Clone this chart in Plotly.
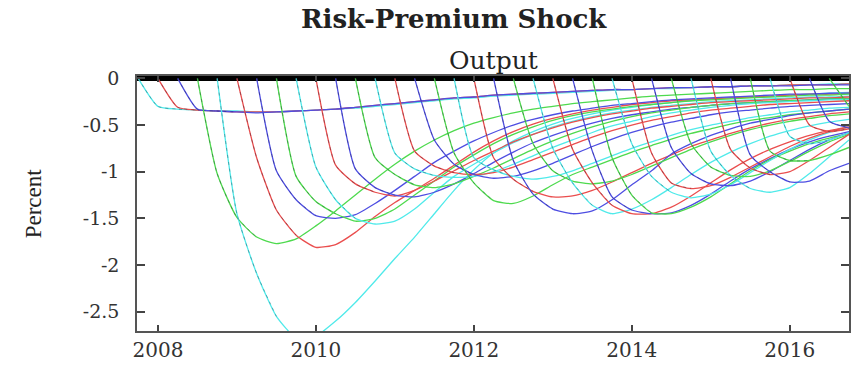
import plotly.graph_objects as go

# Quarterly dates (decimal years), 2007Q4 .. 2016Q4
quarters = [2007.75, 2008.0, 2008.25, 2008.5, 2008.75, 2009.0, 2009.25, 2009.5, 2009.75,
            2010.0, 2010.25, 2010.5, 2010.75, 2011.0, 2011.25, 2011.5, 2011.75,
            2012.0, 2012.25, 2012.5, 2012.75, 2013.0, 2013.25, 2013.5, 2013.75,
            2014.0, 2014.25, 2014.5, 2014.75, 2015.0, 2015.25, 2015.5, 2015.75,
            2016.0, 2016.25, 2016.5, 2016.75]

# Output response (percent) to a risk-premium shock, one path per shock date
r00 = [0, -0.30, -0.33, -0.34, -0.35, -0.35, -0.36, -0.36, -0.35, -0.34, -0.33, -0.32, -0.30, -0.28, -0.26, -0.24, -0.22, -0.21, -0.19, -0.18, -0.17, -0.16, -0.15, -0.14, -0.13, -0.12, -0.11, -0.11, -0.10, -0.09, -0.09, -0.08, -0.08, -0.07, -0.07, -0.06, -0.06]
r01 = [0, -0.31, -0.34, -0.35, -0.36, -0.36, -0.36, -0.35, -0.34, -0.33, -0.31, -0.29, -0.27, -0.25, -0.23, -0.21, -0.20, -0.18, -0.17, -0.16, -0.15, -0.14, -0.13, -0.12, -0.12, -0.11, -0.10, -0.10, -0.09, -0.09, -0.08, -0.08, -0.07, -0.07, -0.07, -0.06]
r02 = [0, -0.33, -0.35, -0.36, -0.37, -0.36, -0.35, -0.34, -0.33, -0.31, -0.29, -0.27, -0.25, -0.23, -0.21, -0.20, -0.18, -0.17, -0.16, -0.15, -0.14, -0.13, -0.12, -0.12, -0.11, -0.10, -0.10, -0.09, -0.09, -0.08, -0.08, -0.08, -0.07, -0.07, -0.07]
r03 = [0, -1.02, -1.49, -1.70, -1.77, -1.72, -1.58, -1.42, -1.25, -1.08, -0.92, -0.78, -0.66, -0.56, -0.48, -0.42, -0.37, -0.33, -0.30, -0.27, -0.25, -0.23, -0.21, -0.19, -0.18, -0.17, -0.16, -0.15, -0.14, -0.13, -0.12, -0.12, -0.11, -0.11]
r04 = [0, -1.45, -2.09, -2.55, -2.78, -2.76, -2.60, -2.40, -2.17, -1.93, -1.70, -1.45, -1.20, -0.98, -0.80, -0.67, -0.57, -0.49, -0.43, -0.38, -0.34, -0.31, -0.28, -0.26, -0.24, -0.22, -0.21, -0.20, -0.19, -0.18, -0.17, -0.16, -0.15]
r05 = [0, -0.85, -1.41, -1.68, -1.81, -1.78, -1.65, -1.48, -1.33, -1.20, -1.07, -0.93, -0.79, -0.67, -0.57, -0.49, -0.43, -0.38, -0.34, -0.31, -0.28, -0.26, -0.24, -0.23, -0.22, -0.21, -0.20, -0.19, -0.18, -0.17, -0.17, -0.16]
r06 = [0, -0.99, -1.30, -1.47, -1.50, -1.46, -1.34, -1.20, -1.05, -0.90, -0.78, -0.67, -0.58, -0.50, -0.44, -0.39, -0.35, -0.32, -0.29, -0.27, -0.25, -0.23, -0.22, -0.21, -0.20, -0.19, -0.18, -0.17, -0.17, -0.16, -0.16]
r07 = [0, -1.05, -1.32, -1.45, -1.53, -1.50, -1.40, -1.25, -1.10, -0.95, -0.82, -0.70, -0.60, -0.52, -0.45, -0.40, -0.36, -0.33, -0.30, -0.28, -0.26, -0.24, -0.23, -0.22, -0.21, -0.20, -0.19, -0.18, -0.18, -0.17]
r08 = [0, -0.95, -1.30, -1.50, -1.56, -1.53, -1.40, -1.22, -1.05, -0.92, -0.80, -0.69, -0.60, -0.52, -0.46, -0.41, -0.37, -0.34, -0.31, -0.29, -0.27, -0.25, -0.24, -0.23, -0.22, -0.21, -0.20, -0.20, -0.19]
r09 = [0, -0.93, -1.13, -1.22, -1.26, -1.20, -1.10, -0.99, -0.88, -0.78, -0.68, -0.60, -0.53, -0.47, -0.42, -0.38, -0.35, -0.32, -0.30, -0.28, -0.26, -0.25, -0.24, -0.23, -0.22, -0.21, -0.21, -0.20]
r10 = [0, -0.97, -1.17, -1.25, -1.27, -1.22, -1.13, -1.02, -0.90, -0.79, -0.69, -0.61, -0.54, -0.48, -0.43, -0.39, -0.36, -0.33, -0.31, -0.29, -0.27, -0.26, -0.25, -0.24, -0.23, -0.22, -0.22]
r11 = [0, -0.85, -1.03, -1.14, -1.17, -1.13, -1.05, -0.96, -0.86, -0.76, -0.67, -0.59, -0.52, -0.46, -0.41, -0.37, -0.34, -0.31, -0.29, -0.27, -0.26, -0.25, -0.24, -0.23, -0.22, -0.22]
r12 = [0, -0.80, -0.97, -1.04, -1.06, -1.05, -1.00, -0.92, -0.83, -0.74, -0.66, -0.58, -0.51, -0.46, -0.41, -0.37, -0.34, -0.31, -0.29, -0.27, -0.26, -0.25, -0.24, -0.23, -0.23]
r13 = [0, -0.78, -0.94, -1.01, -1.03, -1.01, -0.95, -0.87, -0.79, -0.71, -0.63, -0.56, -0.50, -0.45, -0.41, -0.37, -0.34, -0.32, -0.30, -0.28, -0.27, -0.26, -0.25, -0.24]
r14 = [0, -0.66, -0.92, -1.03, -1.07, -1.05, -0.99, -0.91, -0.82, -0.73, -0.65, -0.58, -0.52, -0.47, -0.43, -0.39, -0.36, -0.34, -0.32, -0.30, -0.29, -0.28, -0.27]
r15 = [0, -0.80, -1.12, -1.31, -1.34, -1.26, -1.14, -1.03, -0.95, -0.87, -0.79, -0.72, -0.65, -0.59, -0.54, -0.49, -0.45, -0.42, -0.39, -0.37, -0.35, -0.33]
r16 = [0, -0.85, -0.98, -1.05, -1.08, -1.05, -0.99, -0.91, -0.83, -0.75, -0.68, -0.61, -0.55, -0.50, -0.46, -0.42, -0.39, -0.36, -0.34, -0.32, -0.31]
r17 = [0, -0.85, -1.08, -1.21, -1.27, -1.26, -1.20, -1.11, -1.01, -0.91, -0.82, -0.73, -0.66, -0.59, -0.53, -0.48, -0.44, -0.41, -0.38, -0.36]
r18 = [0, -0.88, -1.24, -1.40, -1.45, -1.42, -1.30, -1.14, -0.99, -0.81, -0.70, -0.61, -0.54, -0.48, -0.44, -0.40, -0.37, -0.35, -0.33]
r19 = [0, -0.70, -0.99, -1.10, -1.13, -1.10, -1.03, -0.94, -0.85, -0.76, -0.68, -0.61, -0.55, -0.50, -0.46, -0.43, -0.40, -0.38]
r20 = [0, -0.75, -1.12, -1.36, -1.45, -1.40, -1.30, -1.17, -1.03, -0.90, -0.79, -0.70, -0.62, -0.56, -0.51, -0.47, -0.44]
r21 = [0, -0.76, -1.12, -1.36, -1.45, -1.45, -1.38, -1.26, -1.12, -0.98, -0.86, -0.76, -0.68, -0.61, -0.56, -0.52]
r22 = [0, -0.78, -1.27, -1.41, -1.45, -1.44, -1.36, -1.24, -1.10, -0.97, -0.86, -0.76, -0.68, -0.62, -0.57]
r23 = [0, -0.85, -1.25, -1.44, -1.45, -1.38, -1.27, -1.13, -0.99, -0.87, -0.78, -0.70, -0.64, -0.59]
r24 = [0, -0.70, -1.05, -1.22, -1.28, -1.24, -1.14, -1.01, -0.88, -0.76, -0.66, -0.58, -0.52]
r25 = [0, -0.80, -1.12, -1.18, -1.15, -1.06, -0.95, -0.84, -0.73, -0.64, -0.57, -0.52]
r26 = [0, -0.74, -1.02, -1.13, -1.15, -1.10, -1.00, -0.88, -0.76, -0.66, -0.58]
r27 = [0, -0.70, -0.95, -1.04, -1.05, -0.99, -0.89, -0.78, -0.68, -0.60]
r28 = [0, -0.78, -1.04, -1.18, -1.22, -1.17, -1.02, -0.84, -0.66]
r29 = [0, -0.76, -0.96, -1.03, -1.00, -0.88, -0.74, -0.60]
r30 = [0, -0.82, -1.00, -1.11, -1.10, -0.99, -0.91]
r31 = [0, -0.78, -0.88, -0.88, -0.82, -0.74]
r32 = [0, -0.62, -0.70, -0.66, -0.58]
r33 = [0, -0.50, -0.57, -0.54]
r34 = [0, -0.46, -0.53]
r35 = [0, -0.30]

responses = [r00, r01, r02, r03, r04, r05, r06, r07, r08, r09, r10, r11,
             r12, r13, r14, r15, r16, r17, r18, r19, r20, r21, r22, r23,
             r24, r25, r26, r27, r28, r29, r30, r31, r32, r33, r34, r35]

palette = ["rgb(80,234,234)", "rgb(234,78,78)", "rgb(78,78,226)", "rgb(78,218,78)"]

y_ticks = [0, -0.5, -1, -1.5, -2, -2.5]
y_ticktext = ["0", "-0.5", "-1", "-1.5", "-2", "-2.5"]
x_ticks = [2008, 2010, 2012, 2014, 2016]
x_ticktext = ["2008", "2010", "2012", "2014", "2016"]

fig = go.Figure()
for k, vals in enumerate(responses):
    xs = quarters[k:k + len(vals)]
    col = palette[k % 4]
    fig.add_trace(go.Scatter(x=xs, y=vals, mode="lines",
                             line=dict(color=col, width=1.3, shape="spline", smoothing=0.55),
                             showlegend=False, hoverinfo="skip"))
    # darker dashes along the initial fall
    fig.add_trace(go.Scatter(x=xs[:4], y=vals[:4], mode="lines",
                             line=dict(color="rgba(20,20,40,0.32)", width=1, dash="3px,4px",
                                       shape="spline", smoothing=0.55),
                             showlegend=False, hoverinfo="skip"))

serif = "DejaVu Serif"
fig.update_layout(
    width=852, height=369,
    margin=dict(l=137, r=1, t=76, b=38),
    paper_bgcolor="white", plot_bgcolor="white",
    font=dict(family=serif, color="#333"),
    xaxis=dict(range=[2007.735, 2016.75], tickvals=x_ticks, ticktext=x_ticktext,
               ticks="inside", ticklen=6, tickwidth=1.5, tickcolor="#444",
               showline=True, linecolor="#555", linewidth=1.5, mirror="ticks",
               showgrid=False, zeroline=False,
               tickfont=dict(family=serif, size=20, color="#333")),
    yaxis=dict(range=[-2.706, 0.025], tickvals=y_ticks, ticktext=y_ticktext,
               ticks="inside", ticklen=8, tickwidth=1.5, tickcolor="#444",
               showline=True, linecolor="#555", linewidth=1.5, mirror="ticks",
               showgrid=False, zeroline=True, zerolinecolor="black", zerolinewidth=5,
               ticklabelstandoff=12,
               tickfont=dict(family=serif, size=19, color="#333")),
    annotations=[
        dict(text="<b>Risk-Premium Shock</b>", xref="paper", yref="paper",
             x=(455 - 137) / 714, y=1 + (76 - 19) / 255,
             xanchor="center", yanchor="middle", showarrow=False,
             font=dict(family=serif, size=26, color="#222")),
        dict(text="Output", xref="paper", yref="paper", x=0.5, y=1 + (76 - 60) / 255,
             xanchor="center", yanchor="middle", showarrow=False,
             font=dict(family=serif, size=25, color="#222")),
        dict(text="Percent", xref="paper", yref="paper", x=-(137 - 33) / 714,
             y=(331 - 203) / 255, xanchor="center", yanchor="middle", showarrow=False,
             textangle=-90, font=dict(family="Liberation Serif", size=23, color="#222")),
    ],
)

fig.write_html("out.html")
